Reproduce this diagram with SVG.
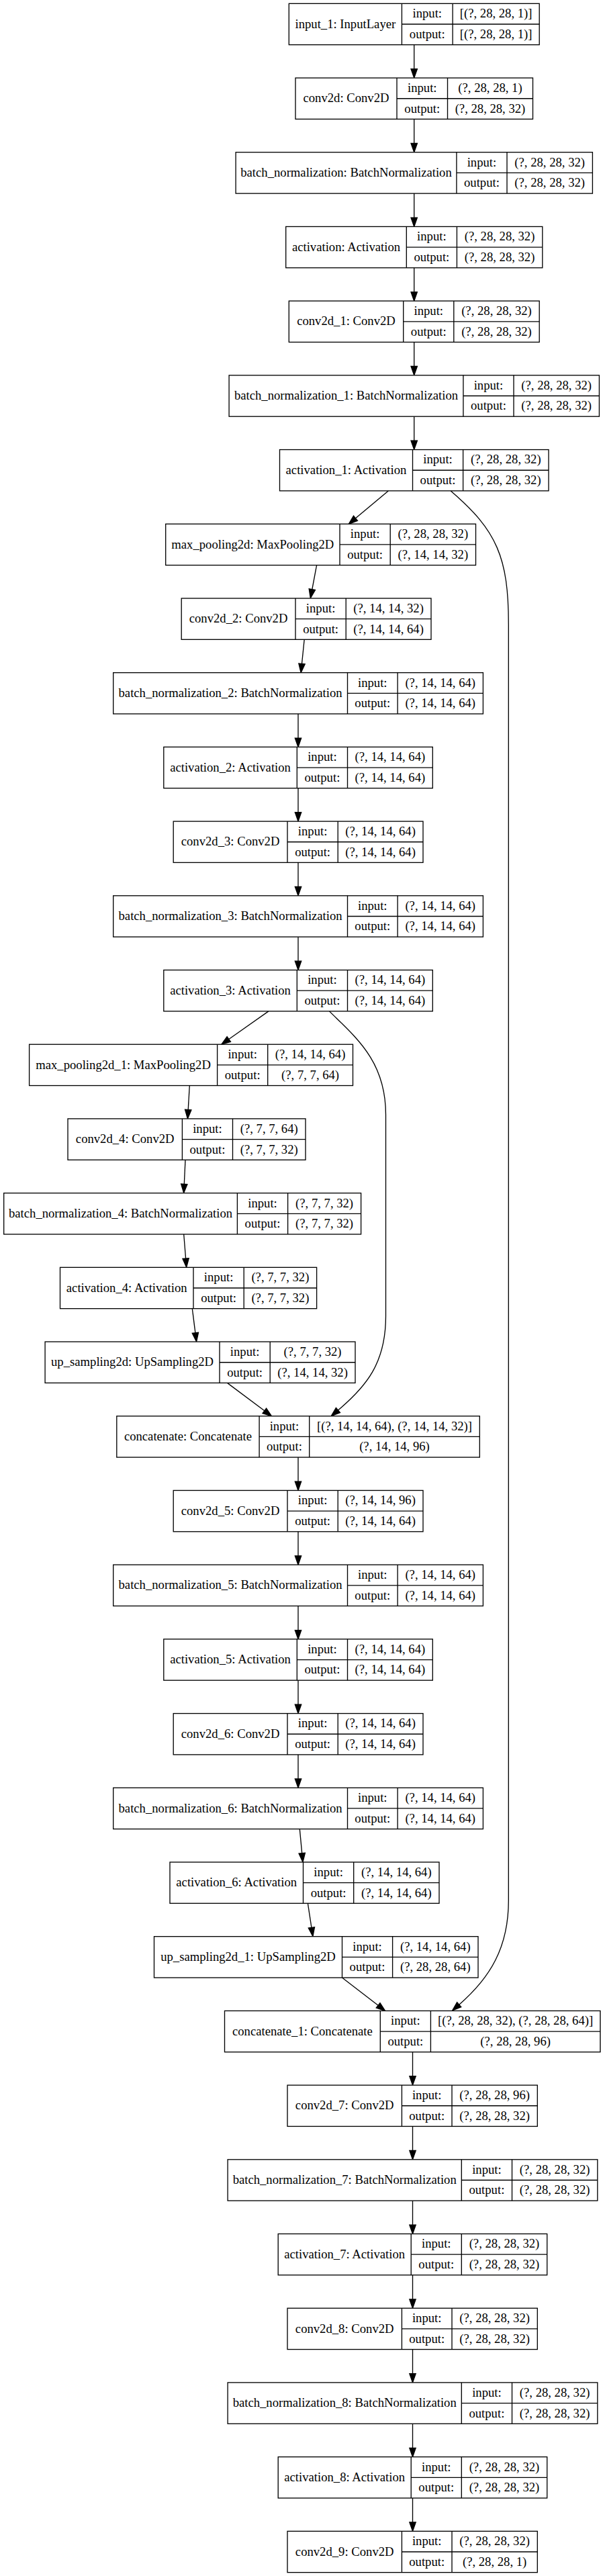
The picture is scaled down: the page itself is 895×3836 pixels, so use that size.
<svg xmlns="http://www.w3.org/2000/svg" width="895" height="3836" viewBox="0 0 895 3836">
<style>
.n rect{fill:#fff;stroke:#000;stroke-width:1.33}
.n path{fill:none;stroke:#000;stroke-width:1.33}
.n text{font-family:"Liberation Serif","Times New Roman",serif;font-size:18.67px;text-anchor:middle;fill:#000}
.e{fill:none;stroke:#000;stroke-width:1.33;marker-end:url(#arr)}
</style>
<defs>
<marker id="arr" markerUnits="userSpaceOnUse" markerWidth="20" markerHeight="16" refX="0" refY="0" orient="auto" overflow="visible">
<path d="M0,-4.67 L13.33,0 L0,4.67 Z" fill="#000" stroke="#000" stroke-width="1.33"/>
</marker>
</defs>
<rect x="0" y="0" width="895" height="3836" fill="#fff"/>

<g id="connectors">
<path class="e" d="M616.7 66.67V102.71"/>
<path class="e" d="M616.7 177.37V213.41"/>
<path class="e" d="M616.7 288.08V324.12"/>
<path class="e" d="M616.7 398.78V434.83"/>
<path class="e" d="M616.7 509.49V545.53"/>
<path class="e" d="M616.7 620.2V656.24"/>
<path class="e" d="M578.3 730.9L529.5 771.8"/>
<path class="e" d="M671.2 730.9C740 790 757.3 830 757.3 930L757.3 2830C757.3 2900 730 2945 683.7 2985.2"/>
<path class="e" d="M471.6 841.6L464.8 877.7"/>
<path class="e" d="M453.2 952.3L449.5 988.4"/>
<path class="e" d="M444 1063.02V1099.06"/>
<path class="e" d="M444 1173.73V1209.77"/>
<path class="e" d="M444 1284.43V1320.48"/>
<path class="e" d="M444 1395.14V1431.18"/>
<path class="e" d="M399.9 1505.85L340.8 1547.5"/>
<path class="e" d="M490.5 1505.85C530 1545 574.5 1580 574.5 1660L574.5 1960C574.5 2030 545 2065 503.4 2100"/>
<path class="e" d="M282.3 1616.55L280.2 1652.6"/>
<path class="e" d="M276 1727.26L274.3 1763.3"/>
<path class="e" d="M273.7 1837.96L276.6 1874"/>
<path class="e" d="M286.3 1948.67L290.9 1984.8"/>
<path class="e" d="M338.5 2059.38L393.8 2100.8"/>
<path class="e" d="M444 2170.08V2206.12"/>
<path class="e" d="M444 2280.79V2316.83"/>
<path class="e" d="M444 2391.49V2427.54"/>
<path class="e" d="M444 2502.2V2538.24"/>
<path class="e" d="M444 2612.91V2648.95"/>
<path class="e" d="M446.3 2723.61L449.7 2759.7"/>
<path class="e" d="M458.4 2834.32L463.9 2870.4"/>
<path class="e" d="M509.5 2945.02L563.1 2986.3"/>
<path class="e" d="M614.5 3055.73V3091.77"/>
<path class="e" d="M614.5 3166.44V3202.48"/>
<path class="e" d="M614.5 3277.14V3313.18"/>
<path class="e" d="M614.5 3387.85V3423.89"/>
<path class="e" d="M614.5 3498.55V3534.6"/>
<path class="e" d="M614.5 3609.26V3645.3"/>
<path class="e" d="M614.5 3719.97V3756.01"/>
</g>

<g id="input_1" class="n" transform="translate(0,5.33)">
<rect x="430.3" y="0" width="372.9" height="61.33"/>
<path d="M598.4 0V61.33M674.1 0V61.33M598.4 30.67H803.2"/>
<text x="514.35" y="36.3">input_1: InputLayer</text>
<text x="636.25" y="20.9">input:</text><text x="636.25" y="51.6">output:</text>
<text x="738.65" y="20.9">[(?, 28, 28, 1)]</text><text x="738.65" y="51.6">[(?, 28, 28, 1)]</text>
</g>

<g id="conv2d" class="n" transform="translate(0,116.04)">
<rect x="440" y="0" width="353.5" height="61.33"/>
<path d="M591 0V61.33M666.5 0V61.33M591 30.67H793.5"/>
<text x="515.5" y="36.3">conv2d: Conv2D</text>
<text x="628.75" y="20.9">input:</text><text x="628.75" y="51.6">output:</text>
<text x="730" y="20.9">(?, 28, 28, 1)</text><text x="730" y="51.6">(?, 28, 28, 32)</text>
</g>

<g id="batch_normalization" class="n" transform="translate(0,226.74)">
<rect x="351.1" y="0" width="531.3" height="61.33"/>
<path d="M679.9 0V61.33M755 0V61.33M679.9 30.67H882.4"/>
<text x="515.5" y="36.3">batch_normalization: BatchNormalization</text>
<text x="717.45" y="20.9">input:</text><text x="717.45" y="51.6">output:</text>
<text x="818.7" y="20.9">(?, 28, 28, 32)</text><text x="818.7" y="51.6">(?, 28, 28, 32)</text>
</g>

<g id="activation" class="n" transform="translate(0,337.45)">
<rect x="425.7" y="0" width="382.1" height="61.33"/>
<path d="M605.3 0V61.33M680.4 0V61.33M605.3 30.67H807.8"/>
<text x="515.5" y="36.3">activation: Activation</text>
<text x="642.85" y="20.9">input:</text><text x="642.85" y="51.6">output:</text>
<text x="744.1" y="20.9">(?, 28, 28, 32)</text><text x="744.1" y="51.6">(?, 28, 28, 32)</text>
</g>

<g id="conv2d_1" class="n" transform="translate(0,448.16)">
<rect x="430.3" y="0" width="372.9" height="61.33"/>
<path d="M600.7 0V61.33M675.8 0V61.33M600.7 30.67H803.2"/>
<text x="515.5" y="36.3">conv2d_1: Conv2D</text>
<text x="638.25" y="20.9">input:</text><text x="638.25" y="51.6">output:</text>
<text x="739.5" y="20.9">(?, 28, 28, 32)</text><text x="739.5" y="51.6">(?, 28, 28, 32)</text>
</g>

<g id="batch_normalization_1" class="n" transform="translate(0,558.86)">
<rect x="341.1" y="0" width="551.3" height="61.33"/>
<path d="M689.9 0V61.33M765 0V61.33M689.9 30.67H892.4"/>
<text x="515.5" y="36.3">batch_normalization_1: BatchNormalization</text>
<text x="727.45" y="20.9">input:</text><text x="727.45" y="51.6">output:</text>
<text x="828.7" y="20.9">(?, 28, 28, 32)</text><text x="828.7" y="51.6">(?, 28, 28, 32)</text>
</g>

<g id="activation_1" class="n" transform="translate(0,669.57)">
<rect x="416.5" y="0" width="400.5" height="61.33"/>
<path d="M614.5 0V61.33M689.6 0V61.33M614.5 30.67H817"/>
<text x="515.5" y="36.3">activation_1: Activation</text>
<text x="652.05" y="20.9">input:</text><text x="652.05" y="51.6">output:</text>
<text x="753.3" y="20.9">(?, 28, 28, 32)</text><text x="753.3" y="51.6">(?, 28, 28, 32)</text>
</g>

<g id="max_pooling2d" class="n" transform="translate(0,780.28)">
<rect x="246.7" y="0" width="461.8" height="61.33"/>
<path d="M506 0V61.33M581.2 0V61.33M506 30.67H708.5"/>
<text x="376.35" y="36.3">max_pooling2d: MaxPooling2D</text>
<text x="543.6" y="20.9">input:</text><text x="543.6" y="51.6">output:</text>
<text x="644.85" y="20.9">(?, 28, 28, 32)</text><text x="644.85" y="51.6">(?, 14, 14, 32)</text>
</g>

<g id="conv2d_2" class="n" transform="translate(0,890.98)">
<rect x="270.2" y="0" width="371.8" height="61.33"/>
<path d="M440 0V61.33M515.2 0V61.33M440 30.67H642"/>
<text x="355.1" y="36.3">conv2d_2: Conv2D</text>
<text x="477.6" y="20.9">input:</text><text x="477.6" y="51.6">output:</text>
<text x="578.6" y="20.9">(?, 14, 14, 32)</text><text x="578.6" y="51.6">(?, 14, 14, 64)</text>
</g>

<g id="batch_normalization_2" class="n" transform="translate(0,1001.69)">
<rect x="168.7" y="0" width="550.7" height="61.33"/>
<path d="M517.5 0V61.33M592.1 0V61.33M517.5 30.67H719.4"/>
<text x="343.1" y="36.3">batch_normalization_2: BatchNormalization</text>
<text x="554.8" y="20.9">input:</text><text x="554.8" y="51.6">output:</text>
<text x="655.75" y="20.9">(?, 14, 14, 64)</text><text x="655.75" y="51.6">(?, 14, 14, 64)</text>
</g>

<g id="activation_2" class="n" transform="translate(0,1112.39)">
<rect x="243.8" y="0" width="400.5" height="61.33"/>
<path d="M442.3 0V61.33M517.5 0V61.33M442.3 30.67H644.3"/>
<text x="343.05" y="36.3">activation_2: Activation</text>
<text x="479.9" y="20.9">input:</text><text x="479.9" y="51.6">output:</text>
<text x="580.9" y="20.9">(?, 14, 14, 64)</text><text x="580.9" y="51.6">(?, 14, 14, 64)</text>
</g>

<g id="conv2d_3" class="n" transform="translate(0,1223.1)">
<rect x="258.2" y="0" width="371.8" height="61.33"/>
<path d="M428 0V61.33M503.2 0V61.33M428 30.67H630"/>
<text x="343.1" y="36.3">conv2d_3: Conv2D</text>
<text x="465.6" y="20.9">input:</text><text x="465.6" y="51.6">output:</text>
<text x="566.6" y="20.9">(?, 14, 14, 64)</text><text x="566.6" y="51.6">(?, 14, 14, 64)</text>
</g>

<g id="batch_normalization_3" class="n" transform="translate(0,1333.81)">
<rect x="168.7" y="0" width="550.7" height="61.33"/>
<path d="M517.5 0V61.33M592.1 0V61.33M517.5 30.67H719.4"/>
<text x="343.1" y="36.3">batch_normalization_3: BatchNormalization</text>
<text x="554.8" y="20.9">input:</text><text x="554.8" y="51.6">output:</text>
<text x="655.75" y="20.9">(?, 14, 14, 64)</text><text x="655.75" y="51.6">(?, 14, 14, 64)</text>
</g>

<g id="activation_3" class="n" transform="translate(0,1444.51)">
<rect x="243.8" y="0" width="400.5" height="61.33"/>
<path d="M442.3 0V61.33M517.5 0V61.33M442.3 30.67H644.3"/>
<text x="343.05" y="36.3">activation_3: Activation</text>
<text x="479.9" y="20.9">input:</text><text x="479.9" y="51.6">output:</text>
<text x="580.9" y="20.9">(?, 14, 14, 64)</text><text x="580.9" y="51.6">(?, 14, 14, 64)</text>
</g>

<g id="max_pooling2d_1" class="n" transform="translate(0,1555.22)">
<rect x="43.6" y="0" width="481.9" height="61.33"/>
<path d="M323.6 0V61.33M398.7 0V61.33M323.6 30.67H525.5"/>
<text x="183.6" y="36.3">max_pooling2d_1: MaxPooling2D</text>
<text x="361.15" y="20.9">input:</text><text x="361.15" y="51.6">output:</text>
<text x="462.1" y="20.9">(?, 14, 14, 64)</text><text x="462.1" y="51.6">(?, 7, 7, 64)</text>
</g>

<g id="conv2d_4" class="n" transform="translate(0,1665.92)">
<rect x="101" y="0" width="354" height="61.33"/>
<path d="M271.4 0V61.33M346.5 0V61.33M271.4 30.67H455"/>
<text x="186.2" y="36.3">conv2d_4: Conv2D</text>
<text x="308.95" y="20.9">input:</text><text x="308.95" y="51.6">output:</text>
<text x="400.75" y="20.9">(?, 7, 7, 64)</text><text x="400.75" y="51.6">(?, 7, 7, 32)</text>
</g>

<g id="batch_normalization_4" class="n" transform="translate(0,1776.63)">
<rect x="5.7" y="0" width="531.9" height="61.33"/>
<path d="M353.4 0V61.33M428.6 0V61.33M353.4 30.67H537.6"/>
<text x="179.55" y="36.3">batch_normalization_4: BatchNormalization</text>
<text x="391" y="20.9">input:</text><text x="391" y="51.6">output:</text>
<text x="483.1" y="20.9">(?, 7, 7, 32)</text><text x="483.1" y="51.6">(?, 7, 7, 32)</text>
</g>

<g id="activation_4" class="n" transform="translate(0,1887.34)">
<rect x="89.5" y="0" width="382.1" height="61.33"/>
<path d="M288 0V61.33M363.2 0V61.33M288 30.67H471.6"/>
<text x="188.75" y="36.3">activation_4: Activation</text>
<text x="325.6" y="20.9">input:</text><text x="325.6" y="51.6">output:</text>
<text x="417.4" y="20.9">(?, 7, 7, 32)</text><text x="417.4" y="51.6">(?, 7, 7, 32)</text>
</g>

<g id="up_sampling2d" class="n" transform="translate(0,1998.04)">
<rect x="67.1" y="0" width="461.9" height="61.33"/>
<path d="M327 0V61.33M402.2 0V61.33M327 30.67H529"/>
<text x="197.05" y="36.3">up_sampling2d: UpSampling2D</text>
<text x="364.6" y="20.9">input:</text><text x="364.6" y="51.6">output:</text>
<text x="465.6" y="20.9">(?, 7, 7, 32)</text><text x="465.6" y="51.6">(?, 14, 14, 32)</text>
</g>

<g id="concatenate" class="n" transform="translate(0,2108.75)">
<rect x="173.8" y="0" width="540.5" height="61.33"/>
<path d="M386.1 0V61.33M460.7 0V61.33M386.1 30.67H714.3"/>
<text x="279.95" y="36.3">concatenate: Concatenate</text>
<text x="423.4" y="20.9">input:</text><text x="423.4" y="51.6">output:</text>
<text x="587.5" y="20.9">[(?, 14, 14, 64), (?, 14, 14, 32)]</text><text x="587.5" y="51.6">(?, 14, 14, 96)</text>
</g>

<g id="conv2d_5" class="n" transform="translate(0,2219.45)">
<rect x="258.2" y="0" width="371.8" height="61.33"/>
<path d="M428 0V61.33M503.2 0V61.33M428 30.67H630"/>
<text x="343.1" y="36.3">conv2d_5: Conv2D</text>
<text x="465.6" y="20.9">input:</text><text x="465.6" y="51.6">output:</text>
<text x="566.6" y="20.9">(?, 14, 14, 96)</text><text x="566.6" y="51.6">(?, 14, 14, 64)</text>
</g>

<g id="batch_normalization_5" class="n" transform="translate(0,2330.16)">
<rect x="168.7" y="0" width="550.7" height="61.33"/>
<path d="M517.5 0V61.33M592.1 0V61.33M517.5 30.67H719.4"/>
<text x="343.1" y="36.3">batch_normalization_5: BatchNormalization</text>
<text x="554.8" y="20.9">input:</text><text x="554.8" y="51.6">output:</text>
<text x="655.75" y="20.9">(?, 14, 14, 64)</text><text x="655.75" y="51.6">(?, 14, 14, 64)</text>
</g>

<g id="activation_5" class="n" transform="translate(0,2440.87)">
<rect x="243.8" y="0" width="400.5" height="61.33"/>
<path d="M442.3 0V61.33M517.5 0V61.33M442.3 30.67H644.3"/>
<text x="343.05" y="36.3">activation_5: Activation</text>
<text x="479.9" y="20.9">input:</text><text x="479.9" y="51.6">output:</text>
<text x="580.9" y="20.9">(?, 14, 14, 64)</text><text x="580.9" y="51.6">(?, 14, 14, 64)</text>
</g>

<g id="conv2d_6" class="n" transform="translate(0,2551.57)">
<rect x="258.2" y="0" width="371.8" height="61.33"/>
<path d="M428 0V61.33M503.2 0V61.33M428 30.67H630"/>
<text x="343.1" y="36.3">conv2d_6: Conv2D</text>
<text x="465.6" y="20.9">input:</text><text x="465.6" y="51.6">output:</text>
<text x="566.6" y="20.9">(?, 14, 14, 64)</text><text x="566.6" y="51.6">(?, 14, 14, 64)</text>
</g>

<g id="batch_normalization_6" class="n" transform="translate(0,2662.28)">
<rect x="168.7" y="0" width="550.7" height="61.33"/>
<path d="M517.5 0V61.33M592.1 0V61.33M517.5 30.67H719.4"/>
<text x="343.1" y="36.3">batch_normalization_6: BatchNormalization</text>
<text x="554.8" y="20.9">input:</text><text x="554.8" y="51.6">output:</text>
<text x="655.75" y="20.9">(?, 14, 14, 64)</text><text x="655.75" y="51.6">(?, 14, 14, 64)</text>
</g>

<g id="activation_6" class="n" transform="translate(0,2772.98)">
<rect x="253" y="0" width="401" height="61.33"/>
<path d="M451.5 0V61.33M526.7 0V61.33M451.5 30.67H654"/>
<text x="352.25" y="36.3">activation_6: Activation</text>
<text x="489.1" y="20.9">input:</text><text x="489.1" y="51.6">output:</text>
<text x="590.35" y="20.9">(?, 14, 14, 64)</text><text x="590.35" y="51.6">(?, 14, 14, 64)</text>
</g>

<g id="up_sampling2d_1" class="n" transform="translate(0,2883.69)">
<rect x="229.5" y="0" width="482.5" height="61.33"/>
<path d="M509.5 0V61.33M584.6 0V61.33M509.5 30.67H712"/>
<text x="369.5" y="36.3">up_sampling2d_1: UpSampling2D</text>
<text x="547.05" y="20.9">input:</text><text x="547.05" y="51.6">output:</text>
<text x="648.3" y="20.9">(?, 14, 14, 64)</text><text x="648.3" y="51.6">(?, 28, 28, 64)</text>
</g>

<g id="concatenate_1" class="n" transform="translate(0,2994.4)">
<rect x="334.5" y="0" width="559.4" height="61.33"/>
<path d="M566.3 0V61.33M641.4 0V61.33M566.3 30.67H893.9"/>
<text x="450.4" y="36.3">concatenate_1: Concatenate</text>
<text x="603.85" y="20.9">input:</text><text x="603.85" y="51.6">output:</text>
<text x="767.65" y="20.9">[(?, 28, 28, 32), (?, 28, 28, 64)]</text><text x="767.65" y="51.6">(?, 28, 28, 96)</text>
</g>

<g id="conv2d_7" class="n" transform="translate(0,3105.1)">
<rect x="428" y="0" width="372.3" height="61.33"/>
<path d="M598.4 0V61.33M673 0V61.33M598.4 30.67H800.3"/>
<text x="513.2" y="36.3">conv2d_7: Conv2D</text>
<text x="635.7" y="20.9">input:</text><text x="635.7" y="51.6">output:</text>
<text x="736.65" y="20.9">(?, 28, 28, 96)</text><text x="736.65" y="51.6">(?, 28, 28, 32)</text>
</g>

<g id="batch_normalization_7" class="n" transform="translate(0,3215.81)">
<rect x="339.1" y="0" width="550.7" height="61.33"/>
<path d="M687.3 0V61.33M762.5 0V61.33M687.3 30.67H889.8"/>
<text x="513.2" y="36.3">batch_normalization_7: BatchNormalization</text>
<text x="724.9" y="20.9">input:</text><text x="724.9" y="51.6">output:</text>
<text x="826.15" y="20.9">(?, 28, 28, 32)</text><text x="826.15" y="51.6">(?, 28, 28, 32)</text>
</g>

<g id="activation_7" class="n" transform="translate(0,3326.51)">
<rect x="414.2" y="0" width="400.5" height="61.33"/>
<path d="M612.2 0V61.33M687.3 0V61.33M612.2 30.67H814.7"/>
<text x="513.2" y="36.3">activation_7: Activation</text>
<text x="649.75" y="20.9">input:</text><text x="649.75" y="51.6">output:</text>
<text x="751" y="20.9">(?, 28, 28, 32)</text><text x="751" y="51.6">(?, 28, 28, 32)</text>
</g>

<g id="conv2d_8" class="n" transform="translate(0,3437.22)">
<rect x="428" y="0" width="372.3" height="61.33"/>
<path d="M598.4 0V61.33M673 0V61.33M598.4 30.67H800.3"/>
<text x="513.2" y="36.3">conv2d_8: Conv2D</text>
<text x="635.7" y="20.9">input:</text><text x="635.7" y="51.6">output:</text>
<text x="736.65" y="20.9">(?, 28, 28, 32)</text><text x="736.65" y="51.6">(?, 28, 28, 32)</text>
</g>

<g id="batch_normalization_8" class="n" transform="translate(0,3547.93)">
<rect x="339.1" y="0" width="550.7" height="61.33"/>
<path d="M687.3 0V61.33M762.5 0V61.33M687.3 30.67H889.8"/>
<text x="513.2" y="36.3">batch_normalization_8: BatchNormalization</text>
<text x="724.9" y="20.9">input:</text><text x="724.9" y="51.6">output:</text>
<text x="826.15" y="20.9">(?, 28, 28, 32)</text><text x="826.15" y="51.6">(?, 28, 28, 32)</text>
</g>

<g id="activation_8" class="n" transform="translate(0,3658.63)">
<rect x="414.2" y="0" width="400.5" height="61.33"/>
<path d="M612.2 0V61.33M687.3 0V61.33M612.2 30.67H814.7"/>
<text x="513.2" y="36.3">activation_8: Activation</text>
<text x="649.75" y="20.9">input:</text><text x="649.75" y="51.6">output:</text>
<text x="751" y="20.9">(?, 28, 28, 32)</text><text x="751" y="51.6">(?, 28, 28, 32)</text>
</g>

<g id="conv2d_9" class="n" transform="translate(0,3769.34)">
<rect x="428" y="0" width="372.3" height="61.33"/>
<path d="M598.4 0V61.33M673 0V61.33M598.4 30.67H800.3"/>
<text x="513.2" y="36.3">conv2d_9: Conv2D</text>
<text x="635.7" y="20.9">input:</text><text x="635.7" y="51.6">output:</text>
<text x="736.65" y="20.9">(?, 28, 28, 32)</text><text x="736.65" y="51.6">(?, 28, 28, 1)</text>
</g>
</svg>
